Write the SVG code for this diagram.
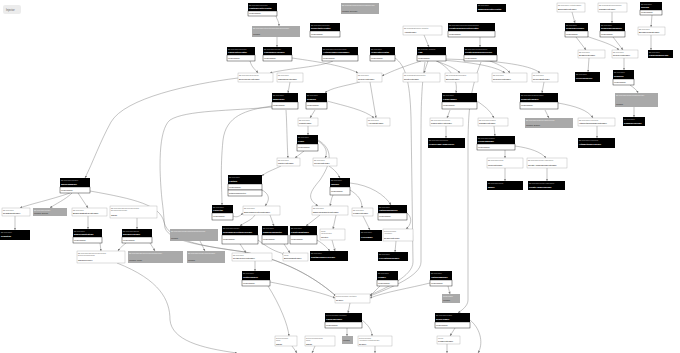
<svg xmlns="http://www.w3.org/2000/svg" width="680" height="353" viewBox="0 0 680 353">
<style>
.h{fill:#000}
.b{fill:#fff;stroke:#000;stroke-width:.4}
.w{fill:#fff;stroke:#aaa;stroke-width:.4}
.g{fill:#a9a9a9}
.bg{fill:#ececec}
text{font-family:"Liberation Sans",Arial,sans-serif}
.p{font-size:1.5px;fill:#bdbdbd}
.t{font-size:2.3px;font-weight:bold;fill:#fff}
.m{font-size:1.8px;fill:#111}
.pw{font-size:1.5px;fill:#666}
.tw{font-size:2.2px;fill:#000}
.pg{font-size:1.5px;fill:#f4f4f4}
.tg{font-size:1.8px;fill:#222}
.e{fill:none;stroke:#7a7a7a;stroke-width:.45;marker-end:url(#a)}
</style>
<defs>
<marker id="a" viewBox="0 0 6 6" refX="6" refY="3" markerWidth="2.4" markerHeight="2.4" markerUnits="userSpaceOnUse" orient="auto"><path d="M0,0L6,3L0,6z" fill="#7a7a7a"/></marker>
</defs>
<rect width="680" height="353" fill="#fff"/>
<g id="injector"><rect class="bg" x="3" y="5" width="18" height="9" rx="2"/><text x="6" y="10.6" font-size="2.6" fill="#555">Injector</text></g>

<g id="edges">
<path class="e" d="M276,16 C277,20 279,21 279,26"/>
<path class="e" d="M277,37 L277,47"/>
<path class="e" d="M250,61 C252,68 255,69 258,73"/>
<path class="e" d="M333,61 C320,67 290,68 270,73"/>
<path class="e" d="M292,58 C320,62 345,66 358,73"/>
<path class="e" d="M421,61 C405,66 392,71 382,76"/>
<path class="e" d="M424,35 L429,47"/>
<path class="e" d="M480,37 L480,47"/>
<path class="e" d="M428,61 L424,73"/>
<path class="e" d="M436,61 C447,65 455,68 460,73"/>
<path class="e" d="M440,60 C470,62 495,66 505,73"/>
<path class="e" d="M443,59 C490,60 530,64 540,73"/>
<path class="e" d="M437,61 C452,70 458,80 456,93"/>
<path class="e" d="M490,61 C500,65 506,68 510,73"/>
<path class="e" d="M290,82 L288,93"/>
<path class="e" d="M238,78 C190,84 125,98 111,122 C100,142 93,162 85,178"/>
<path class="e" d="M272,107 C230,111 186,110 170,120 C158,130 159,170 162,200 C164,215 164,222 165,228 C170,242 205,246 245,252 C292,262 320,282 336,296"/>
<path class="e" d="M572,12 L575,23"/>
<path class="e" d="M612,12 L612,23"/>
<path class="e" d="M652,15 L651,27"/>
<path class="e" d="M651,35 L651,50"/>
<path class="e" d="M576,37 L586,50"/>
<path class="e" d="M586,36 C600,41 612,44 619,50"/>
<path class="e" d="M613,37 L623,50"/>
<path class="e" d="M589,58 L588,72"/>
<path class="e" d="M624,58 L624,70"/>
<path class="e" d="M630,85 C634,88 637,90 638,93"/>
<path class="e" d="M634,107 L634,117"/>
<path class="e" d="M544,82 L542,93"/>
<path class="e" d="M558,103 C575,106 588,110 593,118"/>
<path class="e" d="M545,110 L549,118"/>
<path class="e" d="M597,126 L597,138"/>
<path class="e" d="M446,126 L446,138"/>
<path class="e" d="M494,126 L495,136"/>
<path class="e" d="M505,150 L505,158"/>
<path class="e" d="M515,146 C530,148 541,152 546,158"/>
<path class="e" d="M505,168 L505,181"/>
<path class="e" d="M547,168 L547,181"/>
<path class="e" d="M477,101 C484,106 490,110 494,118"/>
<path class="e" d="M450,110 L447,118"/>
<path class="e" d="M308,126 L308,135"/>
<path class="e" d="M304,151 L295,158"/>
<path class="e" d="M318,141 C326,146 328,152 325,158"/>
<path class="e" d="M286,110 C287,125 287,145 288,158"/>
<path class="e" d="M281,166 C273,170 266,172 262,176"/>
<path class="e" d="M329,166 C335,170 338,174 340,178"/>
<path class="e" d="M262,190 C271,195 269,201 265,206"/>
<path class="e" d="M233,216 C237,218 240,216 243,213"/>
<path class="e" d="M272,106 C245,110 226,116 223,140 C220,170 222,190 222,205"/>
<path class="e" d="M255,215 C252,220 245,222 240,226"/>
<path class="e" d="M270,215 L274,226"/>
<path class="e" d="M320,215 L306,226"/>
<path class="e" d="M336,215 L333,229"/>
<path class="e" d="M350,190 C358,195 362,200 362,208"/>
<path class="e" d="M350,183 C370,185 385,195 391,205"/>
<path class="e" d="M333,195 C331,199 331,202 330,206"/>
<path class="e" d="M363,216 L370,230"/>
<path class="e" d="M407,213 C413,218 411,225 406,229"/>
<path class="e" d="M396,241 L395,252"/>
<path class="e" d="M318,140 C335,150 330,165 320,180 C310,192 306,198 318,206"/>
<path class="e" d="M360,82 C345,86 330,88 325,93"/>
<path class="e" d="M370,82 L376,118"/>
<path class="e" d="M315,110 L310,118"/>
<path class="e" d="M327,101 C345,106 365,110 374,118"/>
<path class="e" d="M70,193 C50,200 30,204 20,208"/>
<path class="e" d="M72,193 C65,200 55,204 50,208"/>
<path class="e" d="M78,193 L88,208"/>
<path class="e" d="M90,191 C135,199 160,205 164,222 C168,240 200,246 245,252 C292,262 320,282 336,296"/>
<path class="e" d="M137,218 L137,229"/>
<path class="e" d="M88,216 L88,229"/>
<path class="e" d="M15,216 L15,230"/>
<path class="e" d="M100,243 L101,251"/>
<path class="e" d="M126,243 C121,247 119,249 118,251"/>
<path class="e" d="M150,243 L155,251"/>
<path class="e" d="M117,263 C160,280 170,300 170,320 C172,340 200,348 237,353"/>
<path class="e" d="M200,241 L205,251"/>
<path class="e" d="M255,261 L255,271"/>
<path class="e" d="M240,244 L246,253"/>
<path class="e" d="M258,240 C268,248 276,252 285,254"/>
<path class="e" d="M284,244 L290,253"/>
<path class="e" d="M317,240 C325,245 327,248 330,251"/>
<path class="e" d="M332,240 L335,251"/>
<path class="e" d="M270,282 C300,288 320,292 335,298"/>
<path class="e" d="M268,286 C280,305 288,325 289,336"/>
<path class="e" d="M380,286 L370,296"/>
<path class="e" d="M430,283 C410,288 385,292 370,298"/>
<path class="e" d="M448,286 L450,294"/>
<path class="e" d="M350,303 L348,313"/>
<path class="e" d="M347,328 L347,336"/>
<path class="e" d="M362,320 C368,325 372,330 372,336"/>
<path class="e" d="M455,328 L450,336"/>
<path class="e" d="M470,320 C482,330 483,345 478,353"/>
<path class="e" d="M447,344 L447,353"/>
<path class="e" d="M375,346 L375,353"/>
<path class="e" d="M292,346 L297,353"/>
<path class="e" d="M315,346 L312,353"/>
<path class="e" d="M481,62 C470,90 468,110 468,150 L468,300 C468,306 462,310 458,313"/>
<path class="e" d="M425,62 C421,90 421,110 421,150 L421,262 C421,276 390,288 370,296"/>
<path class="e" d="M395,58 C405,65 410,80 411,118 L413,262 C413,276 386,288 370,295"/>
</g>

<g id="N1"><rect class="h" x="248" y="3" width="29" height="8"/><rect class="b" x="248" y="11" width="29" height="5"/><text class="p" x="249" y="5.5">BEAR\Resource\Interceptor</text><text class="t" x="249" y="9.4">CustomerInterceptor</text><text class="m" x="249" y="14.2">createInstance</text></g>
<g id="N2"><rect class="g" x="341" y="3" width="38" height="11"/><text class="pg" x="342" y="5.8">BEAR\Sunday\Module\Resource\ModuleProvider</text><text class="tg" x="342" y="12">Includes: Reuleaux</text></g>
<g id="N3"><rect class="h" x="477" y="4" width="29" height="8"/><text class="p" x="478" y="6.3">BEAR\Resource</text><text class="t" x="478" y="10.2">MapCacheInterceptor</text></g>
<g id="N4"><rect class="w" x="557" y="3" width="28" height="9"/><text class="pw" x="558" y="5.8">BEAR\Resource\Annotation\Binder</text><text class="tw" x="558" y="9.8">BinderSiteInterface</text></g>
<g id="N5"><rect class="w" x="598" y="3" width="29" height="9"/><text class="pw" x="599" y="5.8">BEAR\Sunday\Extension\Transfer</text><text class="tw" x="599" y="9.8">TransferInterface</text></g>
<g id="N6"><rect class="h" x="640" y="2" width="22" height="8"/><rect class="b" x="640" y="10" width="22" height="5"/><text class="p" x="641" y="4.5">BEAR\Resource</text><text class="t" x="641" y="8.4">UriLink</text><text class="m" x="641" y="13.2">createInstance</text></g>
<g id="N7"><rect class="g" x="252" y="26" width="48" height="11"/><text class="pg" x="253" y="28.8">BEAR\Resource\Interceptor\ReflectionHelper\Provider</text><text class="tg" x="253" y="35">Includes:</text></g>
<g id="N8"><rect class="h" x="310" y="23" width="30" height="8"/><rect class="b" x="310" y="31" width="30" height="6"/><text class="p" x="311" y="25.5">BEAR\Resource\Interceptor</text><text class="t" x="311" y="29.4">ReflectInterceptor</text><text class="m" x="311" y="34.6">createInstance</text></g>
<g id="N9"><rect class="w" x="403" y="26" width="39" height="9"/><text class="pw" x="404" y="28.8">BEAR\Sunday\Extension\Application</text><text class="tw" x="404" y="32.8">AppInterface</text></g>
<g id="N10"><rect class="h" x="448" y="23" width="47" height="8"/><rect class="b" x="448" y="31" width="47" height="6"/><text class="p" x="449" y="25.5">BEAR\Resource\Interceptor\CreateResource</text><text class="t" x="449" y="29.4">CreateResourceInterceptor</text><text class="m" x="449" y="34.6">createInstance</text></g>
<g id="N11"><rect class="h" x="565" y="23" width="23" height="8"/><rect class="b" x="565" y="31" width="23" height="6"/><text class="p" x="566" y="25.5">BEAR\Resource</text><text class="t" x="566" y="29.4">SessionProvider</text><text class="m" x="566" y="34.6">createInstance</text></g>
<g id="N12"><rect class="h" x="600" y="23" width="25" height="8"/><rect class="b" x="600" y="31" width="25" height="6"/><text class="p" x="601" y="25.5">BEAR\Resource</text><text class="t" x="601" y="29.4">SessionResponder</text><text class="m" x="601" y="34.6">createInstance</text></g>
<g id="N13"><rect class="w" x="638" y="27" width="27" height="8"/><text class="pw" x="639" y="29.6">BEAR\Resource</text><text class="tw" x="639" y="33.3">BrowserLinkInterface</text></g>
<g id="N14"><rect class="h" x="227" y="47" width="28" height="8"/><rect class="b" x="227" y="55" width="28" height="6"/><text class="p" x="228" y="49.5">BEAR\Resource\Interceptor</text><text class="t" x="228" y="53.4">CacheInterceptor</text><text class="m" x="228" y="58.6">createInstance</text></g>
<g id="N15"><rect class="h" x="263" y="47" width="29" height="8"/><rect class="b" x="263" y="55" width="29" height="6"/><text class="p" x="264" y="49.5">BEAR\Resource\Provider</text><text class="t" x="264" y="53.4">ConsumerProvider</text><text class="m" x="264" y="58.6">createInstance</text></g>
<g id="N16"><rect class="h" x="322" y="47" width="36" height="8"/><rect class="b" x="322" y="55" width="36" height="6"/><text class="p" x="323" y="49.5">BEAR\Resource\Interceptor\Logger</text><text class="t" x="323" y="53.4">ActionLoggerConsumer</text><text class="m" x="323" y="58.6">createInstance</text></g>
<g id="N17"><rect class="h" x="370" y="47" width="25" height="8"/><rect class="b" x="370" y="55" width="25" height="6"/><text class="p" x="371" y="49.5">BEAR\Resource</text><text class="t" x="371" y="53.4">OrderInterceptor</text><text class="m" x="371" y="58.6">createInstance</text></g>
<g id="N18"><rect class="h" x="417" y="47" width="29" height="8"/><rect class="b" x="417" y="55" width="29" height="6"/><text class="p" x="418" y="49.5">BEAR\Sunday\Application</text><text class="t" x="418" y="53.4">App</text><text class="m" x="418" y="58.6">createInstance</text></g>
<g id="N19"><rect class="h" x="464" y="47" width="33" height="8"/><rect class="b" x="464" y="55" width="33" height="6"/><text class="p" x="465" y="49.5">BEAR\Resource\CreateResource</text><text class="t" x="465" y="53.4">CreateResourceReceiver</text><text class="m" x="465" y="58.6">createInstance</text></g>
<g id="N20"><rect class="w" x="578" y="50" width="27" height="8"/><text class="pw" x="579" y="52.6">BEAR\Resource</text><text class="tw" x="579" y="56.3">SessionInterface</text></g>
<g id="N21"><rect class="w" x="612" y="50" width="26" height="8"/><text class="pw" x="613" y="52.6">BEAR\Resource</text><text class="tw" x="613" y="56.3">ResolverInterface</text></g>
<g id="N22"><rect class="h" x="648" y="50" width="25" height="8"/><text class="p" x="649" y="52.6">BEAR\Resource</text><text class="t" x="649" y="56.3">FullResourceLink</text></g>
<g id="N23"><rect class="w" x="238" y="73" width="35" height="9"/><text class="pw" x="239" y="75.8">BEAR\Resource\Dependency</text><text class="tw" x="239" y="79.8">DependencyInterface</text></g>
<g id="N24"><rect class="w" x="277" y="73" width="26" height="9"/><text class="pw" x="278" y="75.8">BEAR\Resource</text><text class="tw" x="278" y="79.8">MapCacheInterface</text></g>
<g id="N25"><rect class="w" x="357" y="73" width="25" height="9"/><text class="pw" x="358" y="75.8">BEAR\Resource</text><text class="tw" x="358" y="79.8">ResolveInterface</text></g>
<g id="N26"><rect class="w" x="403" y="73" width="37" height="9"/><text class="pw" x="404" y="75.8">BEAR\Sunday\Extension\Router</text><text class="tw" x="404" y="79.8">RouterInterface</text></g>
<g id="N27"><rect class="w" x="445" y="73" width="33" height="9"/><text class="pw" x="446" y="75.8">BEAR\Sunday\Extension\Error</text><text class="tw" x="446" y="79.8">ErrorInterface</text></g>
<g id="N28"><rect class="w" x="492" y="73" width="35" height="9"/><text class="pw" x="493" y="75.8">BEAR\Resource</text><text class="tw" x="493" y="79.8">ResourceInterface</text></g>
<g id="N29"><rect class="w" x="532" y="73" width="26" height="9"/><text class="pw" x="533" y="75.8">BEAR\Resource</text><text class="tw" x="533" y="79.8">RequestInterface</text></g>
<g id="N30"><rect class="h" x="575" y="72" width="25" height="10"/><text class="p" x="576" y="75">BEAR\Resource</text><text class="t" x="576" y="79">PreferResolver</text></g>
<g id="N31"><rect class="h" x="613" y="70" width="21" height="9"/><rect class="b" x="613" y="79" width="21" height="6"/><text class="p" x="614" y="72.6">BEAR\Resource</text><text class="t" x="614" y="76.8">Resolver</text><text class="m" x="614" y="82.6">createInstance</text></g>
<g id="N32"><rect class="h" x="272" y="93" width="26" height="9"/><rect class="b" x="272" y="102" width="26" height="7"/><text class="p" x="273" y="95.6">BEAR\Resource</text><text class="t" x="273" y="99.8">MapCache</text><text class="m" x="273" y="106">createInstance</text></g>
<g id="N33"><rect class="h" x="306" y="93" width="21" height="9"/><rect class="b" x="306" y="102" width="21" height="7"/><text class="p" x="307" y="95.6">BEAR\Resource</text><text class="t" x="307" y="99.8">Session</text><text class="m" x="307" y="106">createInstance</text></g>
<g id="N34"><rect class="h" x="442" y="93" width="35" height="9"/><rect class="b" x="442" y="102" width="35" height="7"/><text class="p" x="443" y="95.6">BEAR\Resource</text><text class="t" x="443" y="99.8">LocalHandle</text><text class="m" x="443" y="106">createInstance</text></g>
<g id="N35"><rect class="h" x="520" y="93" width="38" height="9"/><rect class="b" x="520" y="102" width="38" height="7"/><text class="p" x="521" y="95.6">BEAR\Resource\Request\Handler</text><text class="t" x="521" y="99.8">RequestHandler</text><text class="m" x="521" y="106">createInstance</text></g>
<g id="N36"><rect class="g" x="615" y="93" width="43" height="14"/><text class="pg" x="616" y="96">BEAR\Resource\ResolverModule\Provider</text><text class="tg" x="616" y="104.5">Includes:</text></g>
<g id="N37"><rect class="w" x="298" y="118" width="20" height="8"/><text class="pw" x="299" y="120.6">BEAR\Resource</text><text class="tw" x="299" y="124.3">LinkInterface</text></g>
<g id="N38"><rect class="w" x="367" y="118" width="23" height="8"/><text class="pw" x="368" y="120.6">BEAR\Resource</text><text class="tw" x="368" y="124.3">AccessInterface</text></g>
<g id="N39"><rect class="w" x="430" y="118" width="33" height="8"/><text class="pw" x="431" y="120.6">BEAR\Resource\ProfilePage</text><text class="tw" x="431" y="124.3">PageFactoryInterface</text></g>
<g id="N40"><rect class="w" x="478" y="118" width="30" height="8"/><text class="pw" x="479" y="120.6">BEAR\Resource\Transfer</text><text class="tw" x="479" y="124.3">TransferInterface</text></g>
<g id="N41"><rect class="g" x="525" y="118" width="48" height="10"/><text class="pg" x="526" y="120.8">BEAR\Resource\Request\Handler\Provider</text><text class="tg" x="526" y="126.2">Includes: strategy</text></g>
<g id="N42"><rect class="w" x="578" y="118" width="37" height="8"/><text class="pw" x="579" y="120.6">BEAR\Resource\HttpMethod</text><text class="tw" x="579" y="124.3">HttpMethodTransferInterface</text></g>
<g id="N43"><rect class="h" x="623" y="117" width="22" height="9"/><text class="p" x="624" y="119.8">BEAR\Resource</text><text class="t" x="624" y="123.8">DomainProvider</text></g>
<g id="N44"><rect class="h" x="297" y="135" width="21" height="9"/><rect class="b" x="297" y="144" width="21" height="7"/><text class="p" x="298" y="137.6">BEAR\Resource</text><text class="t" x="298" y="141.8">Lexer</text><text class="m" x="298" y="148">createInstance</text></g>
<g id="N45"><rect class="h" x="428" y="138" width="37" height="10"/><text class="p" x="429" y="141">BEAR\Resource\ProfilePage</text><text class="t" x="429" y="145.3">ProfilePageAppService</text></g>
<g id="N46"><rect class="h" x="477" y="136" width="38" height="8"/><rect class="b" x="477" y="144" width="38" height="6"/><text class="p" x="478" y="138.5">BEAR\Resource\Transfer</text><text class="t" x="478" y="142.4">FileResponder</text><text class="m" x="478" y="147.6">createInstance</text></g>
<g id="N47"><rect class="h" x="578" y="138" width="37" height="10"/><text class="p" x="579" y="141">BEAR\Resource\HttpMethod</text><text class="t" x="579" y="145.3">HttpMethodProvider</text></g>
<g id="N48"><rect class="w" x="277" y="158" width="23" height="8"/><text class="pw" x="278" y="160.6">BEAR\Resource</text><text class="tw" x="278" y="164.3">FactoryInterface</text></g>
<g id="N49"><rect class="w" x="313" y="158" width="24" height="8"/><text class="pw" x="314" y="160.6">BEAR\Resource</text><text class="tw" x="314" y="164.3">InvokerInterface</text></g>
<g id="N50"><rect class="w" x="487" y="158" width="36" height="10"/><text class="pw" x="488" y="161">BEAR\Resource\Model</text><text class="tw" x="488" y="165.5">ModelInterface</text></g>
<g id="N51"><rect class="w" x="527" y="158" width="40" height="10"/><text class="pw" x="528" y="161">BEAR\Resource\CreateAndResponse</text><text class="tw" x="528" y="165.5">CreateAndResponseInterface</text></g>
<g id="N52"><rect class="h" x="60" y="178" width="30" height="9"/><rect class="b" x="60" y="187" width="30" height="6"/><text class="p" x="61" y="180.6">BEAR\Resource\Spawner</text><text class="t" x="61" y="184.8">QuickSpawner</text><text class="m" x="61" y="190.6">createInstance</text></g>
<g id="N53"><rect class="h" x="228" y="175" width="34" height="9"/><rect class="b" x="228" y="184" width="34" height="6"/><rect class="b" x="228" y="190" width="34" height="6"/><text class="p" x="229" y="177.6">BEAR\Resource</text><text class="t" x="229" y="181.8">Factory</text><text class="m" x="229" y="187.6">createInstance</text><text class="m" x="229" y="193.6">setSchemaCollection</text></g>
<g id="N54"><rect class="h" x="330" y="178" width="20" height="9"/><rect class="b" x="330" y="187" width="20" height="8"/><text class="p" x="331" y="180.6">BEAR\Resource</text><text class="t" x="331" y="184.8">Invoker</text><text class="m" x="331" y="191.6">createInstance</text></g>
<g id="N55"><rect class="h" x="487" y="181" width="36" height="9"/><text class="p" x="488" y="183.6">BEAR\Resource\Model</text><text class="t" x="488" y="187.8">Model</text></g>
<g id="N56"><rect class="h" x="528" y="181" width="37" height="9"/><text class="p" x="529" y="183.6">BEAR\Resource\CreateAndResponse</text><text class="t" x="529" y="187.8">CreateAndResponse</text></g>
<g id="N57"><rect class="w" x="2" y="208" width="28" height="8"/><text class="pw" x="3" y="210.6">BEAR\Resource</text><text class="tw" x="3" y="214.3">RegistrarInterface</text></g>
<g id="N58"><rect class="g" x="33" y="208" width="34" height="8"/><text class="pg" x="34" y="210.6">BEAR\Resource\Module</text><text class="tg" x="34" y="214.3">Includes: schema</text></g>
<g id="N59"><rect class="w" x="72" y="208" width="35" height="8"/><text class="pw" x="73" y="210.6">BEAR\Resource</text><text class="tw" x="73" y="214.3">BusinessStrategyInterface</text></g>
<g id="N60"><rect class="w" x="110" y="206" width="47" height="12"/><text class="pw" x="111" y="208.6">BEAR\Resource\Energy\Provider\Strategy</text><text class="pw" x="111" y="211">EnergyProviderInterface</text><text class="tw" x="111" y="215.5">Cache</text></g>
<g id="N61"><rect class="h" x="212" y="205" width="21" height="8"/><rect class="b" x="212" y="213" width="21" height="7"/><text class="p" x="213" y="207.5">BEAR\Resource</text><text class="t" x="213" y="211.4">Collector</text><text class="m" x="213" y="217.2">createInstance</text></g>
<g id="N62"><rect class="w" x="243" y="206" width="37" height="9"/><text class="pw" x="244" y="208.8">BEAR\Resource</text><text class="tw" x="244" y="212.8">SchemaCollectionInterface</text></g>
<g id="N63"><rect class="w" x="312" y="206" width="36" height="9"/><text class="pw" x="313" y="208.8">BEAR\Resource</text><text class="tw" x="313" y="212.8">NamedParameterInterface</text></g>
<g id="N64"><rect class="w" x="352" y="208" width="21" height="8"/><text class="pw" x="353" y="210.6">BEAR\Resource</text><text class="tw" x="353" y="214.3">LoggerInterface</text></g>
<g id="N65"><rect class="h" x="378" y="205" width="29" height="8"/><rect class="b" x="378" y="213" width="29" height="7"/><text class="p" x="379" y="207.5">BEAR\Resource</text><text class="t" x="379" y="211.4">OptionsRenderer</text><text class="m" x="379" y="217.2">createInstance</text></g>
<g id="N66"><rect class="h" x="0" y="230" width="30" height="10"/><text class="p" x="1" y="233">BEAR\Resource</text><text class="t" x="1" y="237.3">Registrar</text></g>
<g id="N67"><rect class="h" x="73" y="229" width="29" height="8"/><rect class="b" x="73" y="237" width="29" height="6"/><text class="p" x="74" y="231.5">BEAR\Resource</text><text class="t" x="74" y="235.4">BusinessStrategy</text><text class="m" x="74" y="240.6">createInstance</text></g>
<g id="N68"><rect class="h" x="122" y="229" width="30" height="8"/><rect class="b" x="122" y="237" width="30" height="6"/><text class="p" x="123" y="231.5">BEAR\Resource\Energy</text><text class="t" x="123" y="235.4">EnergyProvider</text><text class="m" x="123" y="240.6">createInstance</text></g>
<g id="N69"><rect class="g" x="170" y="229" width="48" height="12"/><text class="pg" x="171" y="231.8">BEAR\Resource\Module\SchemaCollectionProvider</text><text class="tg" x="171" y="239">Includes:</text></g>
<g id="N70"><rect class="h" x="222" y="226" width="36" height="9"/><rect class="b" x="222" y="235" width="36" height="9"/><text class="p" x="223" y="228.6">BEAR\Resource\Module</text><text class="t" x="223" y="232.8">SchemaCollectionProvider</text><text class="m" x="223" y="240">createInstance</text></g>
<g id="N71"><rect class="h" x="262" y="226" width="26" height="9"/><rect class="b" x="262" y="235" width="26" height="9"/><text class="p" x="263" y="228.6">BEAR\Resource</text><text class="t" x="263" y="232.8">NamedParameter</text><text class="m" x="263" y="240">createInstance</text></g>
<g id="N72"><rect class="h" x="290" y="226" width="27" height="9"/><rect class="b" x="290" y="235" width="27" height="9"/><text class="p" x="291" y="228.6">BEAR\Resource</text><text class="t" x="291" y="232.8">LocatedInstance</text><text class="m" x="291" y="240">createInstance</text></g>
<g id="N73"><rect class="w" x="320" y="229" width="25" height="11"/><text class="pw" x="321" y="231.8">Ray\Di</text><text class="pw" x="321" y="234.3">InjectorInterface</text><text class="tw" x="321" y="238.3">Injector</text></g>
<g id="N74"><rect class="h" x="360" y="230" width="22" height="11"/><text class="p" x="361" y="233">BEAR\Resource</text><text class="t" x="361" y="237.6">FileLogger</text></g>
<g id="N75"><rect class="w" x="383" y="229" width="30" height="12"/><text class="pw" x="384" y="231.8">Doctrine\Common</text><text class="pw" x="384" y="234.3">Annotations</text><text class="tw" x="384" y="238.8">ReaderInterface</text></g>
<g id="N76"><rect class="w" x="77" y="251" width="48" height="12"/><text class="pw" x="78" y="253.8">BEAR\Resource\Energy\Provider\Strategy</text><text class="pw" x="78" y="256.3">Doctrine\Common\Cache</text><text class="tw" x="78" y="260.8">CacheProvider</text></g>
<g id="N77"><rect class="g" x="128" y="251" width="55" height="12"/><text class="pg" x="129" y="253.8">BEAR\Resource\Energy\Provider\StrategyModule</text><text class="tg" x="129" y="260.5">Includes: energy</text></g>
<g id="N78"><rect class="g" x="187" y="251" width="38" height="12"/><text class="pg" x="188" y="253.8">BEAR\Resource\Module\SchemaModule</text><text class="tg" x="188" y="260.5">Includes:</text></g>
<g id="N79"><rect class="w" x="232" y="253" width="40" height="8"/><text class="pw" x="233" y="255.6">BEAR\Resource</text><text class="tw" x="233" y="259.3">TextResourceInterface</text></g>
<g id="N80"><rect class="w" x="283" y="253" width="25" height="8"/><text class="pw" x="284" y="255.6">Ray\Di</text><text class="tw" x="284" y="259.3">EncodingInterface</text></g>
<g id="N81"><rect class="h" x="310" y="251" width="38" height="10"/><text class="p" x="311" y="254">BEAR\Resource</text><text class="t" x="311" y="258.3">RootMessageProvider</text></g>
<g id="N82"><rect class="h" x="378" y="252" width="30" height="9"/><text class="p" x="379" y="254.6">BEAR\Resource</text><text class="t" x="379" y="258.8">FileOptionsReader</text></g>
<g id="N83"><rect class="h" x="242" y="271" width="28" height="9"/><rect class="b" x="242" y="280" width="28" height="6"/><text class="p" x="243" y="273.6">BEAR\Resource</text><text class="t" x="243" y="277.8">TextResource</text><text class="m" x="243" y="283.6">createInstance</text></g>
<g id="N84"><rect class="h" x="377" y="271" width="21" height="9"/><rect class="b" x="377" y="280" width="21" height="6"/><text class="p" x="378" y="273.6">BEAR\Resource</text><text class="t" x="378" y="277.8">Header</text><text class="m" x="378" y="283.6">createInstance</text></g>
<g id="N85"><rect class="h" x="430" y="271" width="22" height="9"/><rect class="b" x="430" y="280" width="22" height="6"/><text class="p" x="431" y="273.6">BEAR\Resource</text><text class="t" x="431" y="277.8">OptionsModule</text><text class="m" x="431" y="283.6">createInstance</text></g>
<g id="N86"><rect class="w" x="335" y="294" width="35" height="9"/><text class="pw" x="336" y="296.8">Doctrine\Common\Annotations</text><text class="tw" x="336" y="300.8">Reader</text></g>
<g id="N87"><rect class="g" x="442" y="294" width="18" height="9"/><text class="pg" x="443" y="296.8">Ray\Di\Module</text><text class="tg" x="443" y="301.3">Includes:</text></g>
<g id="N88"><rect class="h" x="325" y="313" width="37" height="9"/><rect class="b" x="325" y="322" width="37" height="6"/><text class="p" x="326" y="315.6">Doctrine\Common\Annotations</text><text class="t" x="326" y="319.8">CachedReader</text><text class="m" x="326" y="325.6">createInstance</text></g>
<g id="N89"><rect class="h" x="435" y="313" width="35" height="9"/><rect class="b" x="435" y="322" width="35" height="6"/><text class="p" x="436" y="315.6">BEAR\Resource\Logger</text><text class="t" x="436" y="319.8">ErrorLogger</text><text class="m" x="436" y="325.6">createInstance</text></g>
<g id="N90"><rect class="w" x="275" y="336" width="22" height="10"/><text class="pw" x="276" y="338.6">Doctrine\Common</text><text class="pw" x="276" y="341">Cache</text><text class="tw" x="276" y="344.6">Cache</text></g>
<g id="N91"><rect class="w" x="305" y="336" width="30" height="10"/><text class="pw" x="306" y="338.6">Doctrine\Common\Cache</text><text class="pw" x="306" y="341">Cache</text><text class="tw" x="306" y="344.6">Cache</text></g>
<g id="N92"><rect class="g" x="342" y="336" width="11" height="8"/><text class="tg" x="343" y="341">Includes</text></g>
<g id="N93"><rect class="w" x="358" y="336" width="34" height="10"/><text class="pw" x="359" y="338.6">Doctrine\Common</text><text class="pw" x="359" y="341">Annotations\AnnotationReader</text><text class="tw" x="359" y="344.6">Reader</text></g>
<g id="N94"><rect class="w" x="437" y="336" width="23" height="8"/><text class="pw" x="438" y="338.6">Psr\Log</text><text class="tw" x="438" y="342.3">LoggerInterface</text></g>
</svg>
